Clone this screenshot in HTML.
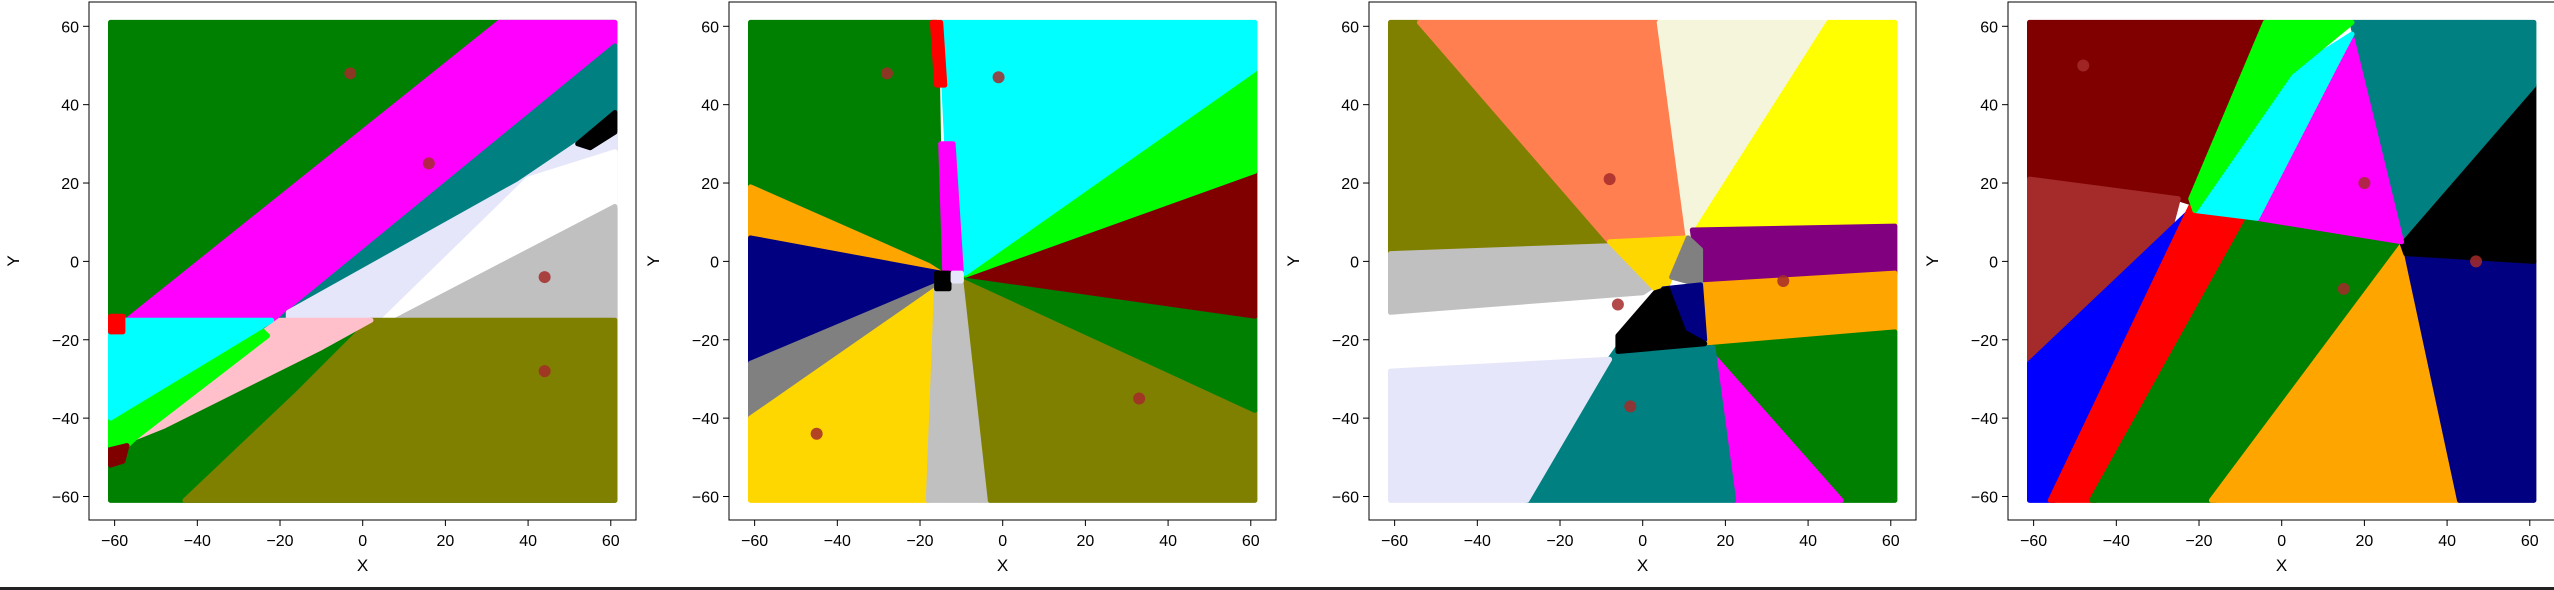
<!DOCTYPE html>
<html><head><meta charset="utf-8"><style>
html,body{margin:0;padding:0;background:#fff;}
svg{display:block;font-family:"Liberation Sans","DejaVu Sans",sans-serif;}
</style></head><body>
<svg id="fig" width="2554" height="590" viewBox="0 0 2554 590" xmlns="http://www.w3.org/2000/svg"></svg>
<script>
// ---- data: cluster regions (data coords), per panel ----
const p1Names = ["green","magenta","teal","lavender","white","black","gray","olive","pink","lime","cyan","red","maroon"];
const p1Colors = ["#008000","#ff00ff","#008080","#e6e6fa","#ffffff","#000000","#c0c0c0","#808000","#ffc0cb","#00ff00","#00ffff","#ff0000","#800000"];
const p1Polys = [
 [[-61,61],[61,61],[61,-61],[-61,-61]],
 [[-57,-15],[-20,-15],[61,55],[61,61],[33,61]],
 [[-20,-15],[61,55],[61,37],[52,30],[38,20],[-18,-13]],
 [[-18,-15],[-18,-13],[38,20],[52,30],[61,33],[61,14],[5,-15]],
 [[5,-15],[40,21],[61,28],[61,14],[8,-15]],
 [[52,30],[61,38],[61,33],[55,29]],
 [[8,-15],[61,14],[61,-15]],
 [[2,-15],[61,-15],[61,-61],[-43,-61],[-16,-34]],
 [[-55,-45],[-24,-18],[-20,-15],[2,-15],[-10,-22],[-48,-42]],
 [[-61,-47],[-61,-40],[-25,-17],[-23,-19],[-55,-45],[-58,-48]],
 [[-61,-15],[-22,-15],[-25,-17],[-61,-40]],
 [[-61,-14],[-58,-14],[-58,-18],[-61,-18]],
 [[-61,-48],[-57,-47],[-58,-51],[-61,-52]]
];
const p1Cx = [-3,16,44,44];
const p1Cy = [48,25,-4,-28];

const p2Names = ["green","orange","navy","gray","gold","silver","olive","green2","maroon","lime","cyan","magenta","red","black","lavender"];
const p2Colors = ["#008000","#ffa500","#000080","#808080","#ffd700","#c0c0c0","#808000","#008000","#800000","#00ff00","#00ffff","#ff00ff","#ff0000","#000000","#e6e6fa"];
const p2Polys = [
 [[-61,61],[-16,61],[-15,-3],[-61,-3]],
 [[-61,19],[-18,-1],[-15,-3],[-61,6]],
 [[-61,6],[-15,-3],[-18,-8],[-61,-26]],
 [[-61,-26],[-16,-6],[-17,-9],[-61,-40]],
 [[-61,-40],[-16,-7],[-18,-61],[-61,-61]],
 [[-18,-61],[-16,-6],[-9,-4],[-3,-61]],
 [[-3,-61],[-9,-4],[61,-38],[61,-61]],
 [[-9,-4],[61,-14],[61,-38]],
 [[-9,-3.5],[61,23],[61,-14]],
 [[-9,-3.5],[61,49],[61,23]],
 [[-15,61],[61,61],[61,49],[-9,-3],[-12,-3]],
 [[-15,30],[-12,30],[-10,-3],[-14,-3]],
 [[-17,61],[-15,61],[-14,45],[-16,45]],
 [[-16,-3],[-13,-3],[-13,-7],[-16,-7]],
 [[-12,-3],[-10,-3],[-10,-5],[-12,-5]]
];
const p2Cx = [-28,-1,-45,33];
const p2Cy = [48,47,-44,-35];

const p3Names = ["olive","coral","beige","yellow","purple","orange","green","magenta","teal","lavender","silver","gold","gray","navy","black"];
const p3Colors = ["#808000","#ff7f50","#f5f5dc","#ffff00","#800080","#ffa500","#008000","#ff00ff","#008080","#e6e6fa","#c0c0c0","#ffd700","#808080","#000080","#000000"];
const p3Polys = [
 [[-61,61],[-54,61],[-8,5],[-8,3],[-61,2]],
 [[-54,61],[4,61],[11,6],[-8,5]],
 [[4,61],[45,61],[13,7],[11,6]],
 [[45,61],[61,61],[61,9],[13,8]],
 [[12,8],[61,9],[61,-3],[14,-6]],
 [[14,-6],[61,-3],[61,-18],[16,-22]],
 [[16,-22],[61,-18],[61,-61],[48,-61],[18,-24]],
 [[17,-24],[48,-61],[22,-61],[16,-26]],
 [[-28,-61],[22,-61],[17,-22],[-6,-22],[-8,-25]],
 [[-61,-28],[-8,-25],[-28,-61],[-61,-61]],
 [[-61,2],[-8,4],[3,-6],[0,-8],[-61,-13]],
 [[-8,5],[11,6],[6,-6],[3,-7]],
 [[7,-4],[11,6],[14,3],[14,-6]],
 [[5,-7],[14,-6],[15,-20],[10,-18]],
 [[3,-8],[6,-7],[10,-18],[15,-21],[-6,-23],[-6,-19]]
];
const p3Cx = [-8,-6,-3,34];
const p3Cy = [21,-11,-37,-5];

const p4Names = ["maroon","brown","blue","red","green","orange","navy","black","teal","magenta","cyan","lime"];
const p4Colors = ["#800000","#a52a2a","#0000ff","#ff0000","#008000","#ffa500","#000080","#000000","#008080","#ff00ff","#00ffff","#00ff00"];
const p4Polys = [
 [[-61,61],[-4,61],[-6,55],[-16,30],[-22,15],[-25,16],[-61,21]],
 [[-61,21],[-25,16],[-27,8],[-61,-26]],
 [[-61,-26],[-27,8],[-22,13],[-55,-61],[-61,-61]],
 [[-22,14],[-8,11],[-45,-61],[-56,-61]],
 [[-8,11],[-6,11],[29,4],[-16,-61],[-46,-61]],
 [[29,4],[31,3],[43,-61],[-17,-61]],
 [[30,3],[61,0],[61,-61],[43,-61]],
 [[29,5],[61,45],[61,0],[30,2]],
 [[17,61],[61,61],[61,45],[29,6]],
 [[17,57],[29,5],[-6,11],[14,52]],
 [[-21,13],[-6,11],[14,52],[17,58],[2,48]],
 [[-4,61],[17,61],[2,48],[-21,13],[-22,16]]
];
const p4Cx = [-48,20,15,47];
const p4Cy = [50,20,-7,0];

const xTicks = [-60,-40,-20,0,20,40,60];
const yTicks = [-60,-40,-20,0,20,40,60];
const tickLabels = ["\u221260","\u221240","\u221220","0","20","40","60"];

// ---- rendering ----
const NS = "http://www.w3.org/2000/svg";
const svg = document.getElementById("fig");
const panelLefts = [89, 729, 1369, 2008];
const AX_W = 547, AX_TOP = 2, AX_H = 518;
const XMIN = -66.2, XMAX = 66.1, YMIN = -66.0, YMAX = 66.2;
function mk(tag, attrs){ const e = document.createElementNS(NS, tag); for (const k in attrs) e.setAttribute(k, attrs[k]); return e; }

const panels = [
 {names:p1Names, colors:p1Colors, polys:p1Polys, cx:p1Cx, cy:p1Cy},
 {names:p2Names, colors:p2Colors, polys:p2Polys, cx:p2Cx, cy:p2Cy},
 {names:p3Names, colors:p3Colors, polys:p3Polys, cx:p3Cx, cy:p3Cy},
 {names:p4Names, colors:p4Colors, polys:p4Polys, cx:p4Cx, cy:p4Cy}
];

panels.forEach((P, pi) => {
  const L = panelLefts[pi];
  const sx = v => L + (v - XMIN) / (XMAX - XMIN) * AX_W;
  const sy = v => AX_TOP + (YMAX - v) / (YMAX - YMIN) * AX_H;
  const g = mk("g", {});
  
  
  svg.appendChild(g);
  const regions = mk("g", {});
  
  
  g.appendChild(regions);
  P.polys.forEach((poly, ri) => {
    const pts = poly.map(p => sx(p[0]).toFixed(1) + "," + sy(p[1]).toFixed(1)).join(" ");
    const el = mk("polygon", {points: pts, fill: P.colors[ri], stroke: P.colors[ri], "stroke-width": 5, "stroke-linejoin": "round"});
    
    
    regions.appendChild(el);
  });
  P.cx.forEach((x, ci) => {
    const c = mk("circle", {cx: sx(x), cy: sy(P.cy[ci]), r: 6, fill: "#a52a2a", "fill-opacity": 0.85});
    
    
    g.appendChild(c);
  });
  const frame = mk("rect", {x: L, y: AX_TOP, width: AX_W, height: AX_H, fill: "none", stroke: "#000", "stroke-width": 1});
  
  
  g.appendChild(frame);
  xTicks.forEach((t, i) => {
    const x = sx(t);
    const tk = mk("line", {x1: x, x2: x, y1: AX_TOP + AX_H, y2: AX_TOP + AX_H + 6, stroke: "#000", "stroke-width": 1});
    
    
    g.appendChild(tk);
    const tx = mk("text", {x: x, y: AX_TOP + AX_H + 26, "text-anchor": "middle", "font-size": 16, fill: "#000"});
    tx.textContent = tickLabels[i];
    
    
    g.appendChild(tx);
  });
  yTicks.forEach((t, i) => {
    const y = sy(t);
    const tk = mk("line", {x1: L - 6, x2: L, y1: y, y2: y, stroke: "#000", "stroke-width": 1});
    
    
    g.appendChild(tk);
    const tx = mk("text", {x: L - 10, y: y + 6, "text-anchor": "end", "font-size": 16, fill: "#000"});
    tx.textContent = tickLabels[i];
    
    
    g.appendChild(tx);
  });
  const xl = mk("text", {x: L + AX_W / 2, y: 571, "text-anchor": "middle", "font-size": 17, fill: "#000"});
  xl.textContent = "X";
  
  
  g.appendChild(xl);
  const yx = L - 70, yy = AX_TOP + AX_H / 2;
  const yl = mk("text", {x: yx, y: yy, "text-anchor": "middle", "font-size": 17, fill: "#000", transform: "rotate(-90 " + yx + " " + yy + ")"});
  yl.textContent = "Y";
  
  
  g.appendChild(yl);
});
const bar = mk("rect", {x: 0, y: 587, width: 2554, height: 3, fill: "#222"});


svg.appendChild(bar);
</script>
</body></html>
